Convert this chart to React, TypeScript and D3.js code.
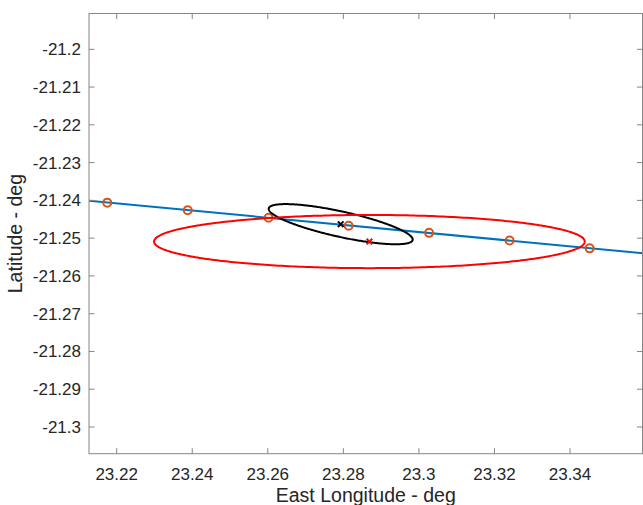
import React from "react";
import * as d3 from "d3";

const W = 643;
const H = 505;

const xDomain = [23.21267, 23.35919];
const yDomain = [-21.30707, -21.19052];
const xTicks = [23.22, 23.24, 23.26, 23.28, 23.3, 23.32, 23.34];
const xTickLabels = ["23.22", "23.24", "23.26", "23.28", "23.3", "23.32", "23.34"];
const yTicks = [-21.2, -21.21, -21.22, -21.23, -21.24, -21.25, -21.26, -21.27, -21.28, -21.29, -21.3];
const yTickLabels = ["-21.2", "-21.21", "-21.22", "-21.23", "-21.24", "-21.25", "-21.26", "-21.27", "-21.28", "-21.29", "-21.3"];

// ground track (blue line)
const trackLon = [23.2, 23.37];
const trackLat = [-21.2389, -21.2550];

// sample points (orange circles)
const ptLon = [23.2175, 23.2388, 23.2602, 23.2814, 23.3027, 23.324, 23.3452];
const ptLat = [-21.2406, -21.2426, -21.2446, -21.2467, -21.2486, -21.2506, -21.2527];

// estimates: [lon, lat]
const blackCenter = [23.2793, -21.2463];
const redCenter = [23.2869, -21.2509];

// ellipses: [semi-major (deg), semi-minor (deg), rotation (deg)]
const blackEllipse = [0.0195, 0.00336, -12.4];
const redEllipse = [0.057, 0.00704, 0];

const BLUE = "#0072BD";
const ORANGE = "#D95319";
const AXIS = "#858585";
const TEXT = "#262626";
const FONT = "'Liberation Sans', Arial, Helvetica, sans-serif";

const left = 89;
const right = 642.5;
const top = 13.5;
const bottom = 453.7;

function ellipsePoints(c: number[], e: number[]): [number, number][] {
  const [a, b, rotDeg] = e;
  const r = (rotDeg * Math.PI) / 180;
  const angles = d3.range(0, 361, 1).map((t) => (t * Math.PI) / 180);
  return angles.map((t) => {
    const u = a * Math.cos(t);
    const v = b * Math.sin(t);
    return [c[0] + u * Math.cos(r) - v * Math.sin(r), c[1] + u * Math.sin(r) + v * Math.cos(r)];
  });
}

export default function App() {
  const x = d3.scaleLinear().domain(xDomain).range([left, right]);
  const y = d3.scaleLinear().domain(yDomain).range([bottom, top]);
  const line = d3
    .line<[number, number]>()
    .x((d) => x(d[0]))
    .y((d) => y(d[1]));

  const track: [number, number][] = trackLon.map((v, i) => [v, trackLat[i]]);
  const blackPath = line(ellipsePoints(blackCenter, blackEllipse));
  const redPath = line(ellipsePoints(redCenter, redEllipse));

  const xMark = (c: number[], color: string, key: string) => {
    const cx = x(c[0]);
    const cy = y(c[1]);
    const s = 2.8;
    return (
      <g key={key} stroke={color} strokeWidth={2}>
        <line x1={cx - s} y1={cy - s} x2={cx + s} y2={cy + s} />
        <line x1={cx - s} y1={cy + s} x2={cx + s} y2={cy - s} />
      </g>
    );
  };

  return (
    <svg
      width={W}
      height={H}
      style={{ position: "absolute", left: 0, top: 0, background: "#fff" }}
      fontFamily={FONT}
    >
      <defs>
        <clipPath id="plotclip">
          <rect x={left} y={top} width={right - left} height={bottom - top} />
        </clipPath>
      </defs>
      <rect x={0} y={0} width={W} height={H} fill="#fff" />
      <g clipPath="url(#plotclip)" fill="none">
        <path d={line(track) || ""} stroke={BLUE} strokeWidth={2} />
        {ptLon.map((v, i) => (
          <circle key={i} cx={x(v)} cy={y(ptLat[i])} r={4} stroke={ORANGE} strokeWidth={2} fill="none" />
        ))}
        <path d={blackPath || ""} stroke="#000" strokeWidth={2} />
        {xMark(blackCenter, "#000", "bx")}
        <path d={redPath || ""} stroke="#FF0000" strokeWidth={2} />
        {xMark(redCenter, "#FF0000", "rx")}
      </g>
      {/* axes box */}
      <rect x={left} y={top} width={right - left} height={bottom - top} fill="none" stroke={AXIS} strokeWidth={1} />
      {xTicks.map((t, i) => (
        <g key={"xt" + i}>
          <line x1={x(t)} x2={x(t)} y1={bottom} y2={bottom - 5.5} stroke={AXIS} />
          <line x1={x(t)} x2={x(t)} y1={top} y2={top + 5.5} stroke={AXIS} />
          <text x={x(t)} y={479.5} textAnchor="middle" fontSize={17} fill={TEXT}>
            {xTickLabels[i]}
          </text>
        </g>
      ))}
      {yTicks.map((t, i) => (
        <g key={"yt" + i}>
          <line x1={left} x2={left + 5.5} y1={y(t)} y2={y(t)} stroke={AXIS} />
          <line x1={right} x2={right - 5.5} y1={y(t)} y2={y(t)} stroke={AXIS} />
          <text x={81} y={y(t)} dy="0.35em" textAnchor="end" fontSize={17} fill={TEXT}>
            {yTickLabels[i]}
          </text>
        </g>
      ))}
      <text x={(left + right) / 2} y={502} textAnchor="middle" fontSize={19.5} fill={TEXT}>
        East Longitude - deg
      </text>
      <text
        transform={`translate(22,${(top + bottom) / 2}) rotate(-90)`}
        textAnchor="middle"
        fontSize={19.5}
        fill={TEXT}
      >
        Latitude - deg
      </text>
    </svg>
  );
}
